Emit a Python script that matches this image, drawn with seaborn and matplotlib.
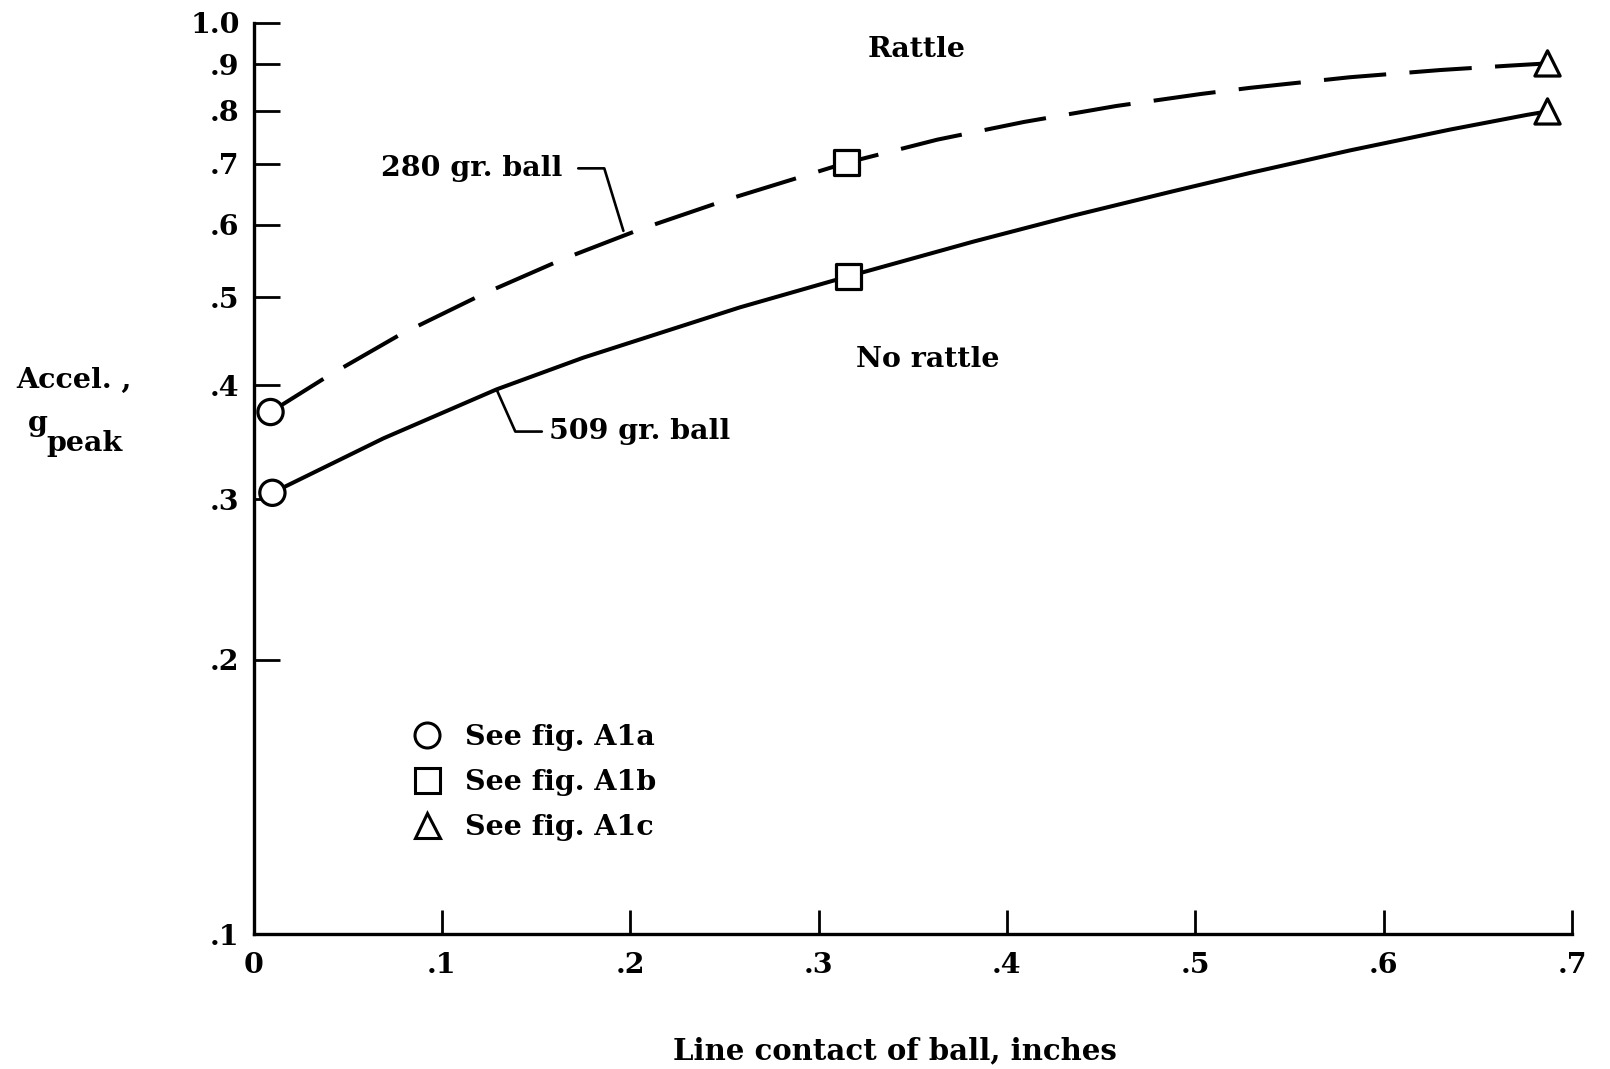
import numpy as np
import pandas as pd
import matplotlib
matplotlib.use("Agg")
import matplotlib.pyplot as plt
from matplotlib.lines import Line2D
from matplotlib.ticker import NullLocator
import seaborn as sns

# ---- data ----
# 280 gr. ball (dashed) faired curve
x_280 = [0.009, 0.039, 0.078, 0.122, 0.164, 0.205, 0.253, 0.315, 0.363, 0.409,
         0.458, 0.503, 0.529, 0.582, 0.630, 0.667, 0.687]
y_280 = [0.374, 0.409, 0.455, 0.504, 0.550, 0.593, 0.641, 0.702, 0.744, 0.778,
         0.810, 0.835, 0.848, 0.871, 0.887, 0.897, 0.902]
# 509 gr. ball (solid) faired curve
x_509 = [0.010, 0.069, 0.129, 0.175, 0.258, 0.316, 0.382, 0.435, 0.488, 0.529,
         0.582, 0.635, 0.676, 0.687]
y_509 = [0.305, 0.350, 0.396, 0.429, 0.487, 0.527, 0.575, 0.614, 0.653, 0.684,
         0.724, 0.763, 0.792, 0.799]
# test points (marker per source figure)
pt_x = [0.009, 0.315, 0.687, 0.010, 0.316, 0.687]
pt_y = [0.374, 0.702, 0.902, 0.305, 0.527, 0.799]
pt_fig = ["A1a", "A1b", "A1c", "A1a", "A1b", "A1c"]
legend_labels = ["See fig. A1a", "See fig. A1b", "See fig. A1c"]

x_ticks = [0, 0.1, 0.2, 0.3, 0.4, 0.5, 0.6, 0.7]
x_tick_labels = ["0", ".1", ".2", ".3", ".4", ".5", ".6", ".7"]
y_ticks = [0.1, 0.2, 0.3, 0.4, 0.5, 0.6, 0.7, 0.8, 0.9, 1.0]
y_tick_labels = [".1", ".2", ".3", ".4", ".5", ".6", ".7", ".8", ".9", "1.0"]

# ---- style ----
sns.set_theme(style="white")
plt.rcParams["font.family"] = ["DejaVu Serif"]
plt.rcParams["font.weight"] = "bold"
plt.rcParams["text.color"] = "black"
plt.rcParams["axes.labelcolor"] = "black"
plt.rcParams["xtick.color"] = "black"
plt.rcParams["ytick.color"] = "black"

FS = 20.5
fig = plt.figure(figsize=(16.1, 10.69), dpi=100)
ax = fig.add_axes([0.1575, 0.1259, 0.8189, 0.853])

LW = 2.9
df280 = pd.DataFrame({"x": x_280, "y": y_280})
df509 = pd.DataFrame({"x": x_509, "y": y_509})
sns.lineplot(data=df280, x="x", y="y", ax=ax, color="black", lw=LW,
             linestyle=(0, (15.5, 5.8)), sort=False, estimator=None, zorder=2,
             solid_joinstyle="round", dash_capstyle="butt")
sns.lineplot(data=df509, x="x", y="y", ax=ax, color="black", lw=LW,
             sort=False, estimator=None, zorder=2, solid_joinstyle="round")

dpts = pd.DataFrame({"x": pt_x, "y": pt_y, "fig": pt_fig})
markers = {"A1a": "o", "A1b": "s", "A1c": "^"}
sns.scatterplot(data=dpts, x="x", y="y", style="fig", markers=markers, ax=ax,
                s=330, color="white", edgecolor="black", linewidth=2.3,
                legend=False, zorder=3, clip_on=False)

ax.set_yscale("log")
ax.set_xlim(0, 0.7)
ax.set_ylim(0.1, 1.0)
ax.set_xticks(x_ticks)
ax.set_xticklabels(x_tick_labels)
ax.set_yticks(y_ticks)
ax.set_yticklabels(y_tick_labels)
ax.yaxis.set_minor_locator(NullLocator())
ax.xaxis.set_minor_locator(NullLocator())

sns.despine(ax=ax)
for s in ["left", "bottom"]:
    ax.spines[s].set_linewidth(2.4)
    ax.spines[s].set_color("black")

ax.tick_params(axis="y", direction="in", length=19, width=2.0, pad=10,
               labelsize=FS, colors="black", left=True)
ax.tick_params(axis="x", direction="in", length=17, width=2.0, pad=13,
               labelsize=FS, colors="black", bottom=True)
for lab in ax.get_xticklabels() + ax.get_yticklabels():
    lab.set_fontweight("bold")

ax.set_xlabel("Line contact of ball, inches", fontsize=FS + 0.5,
              fontweight="bold")
ax.xaxis.set_label_coords(0.4865, -0.112)
ax.set_ylabel("Accel. ,", fontsize=FS, fontweight="bold",
              rotation=0, ha="center", va="center")
ax.yaxis.set_label_coords(-0.136, 0.608)
# subscripted g_peak written as two texts (subscript nearly full size)
ax.text(-0.171, 0.552, "g", transform=ax.transAxes, fontsize=FS,
        fontweight="bold", ha="left", va="baseline")
ax.text(-0.1575, 0.530, "peak", transform=ax.transAxes, fontsize=FS,
        fontweight="bold", ha="left", va="baseline")

ax.text(0.352, 0.935, "Rattle", fontsize=FS, fontweight="bold",
        ha="center", va="center")
ax.text(0.358, 0.427, "No rattle", fontsize=FS, fontweight="bold",
        ha="center", va="center")

ax.annotate("280 gr. ball", xy=(0.197, 0.585), xytext=(0.164, 0.692),
            fontsize=FS, fontweight="bold", ha="right", va="center",
            arrowprops=dict(arrowstyle="-", color="black", lw=1.9,
                            shrinkA=9, shrinkB=-3,
                            connectionstyle="angle,angleA=0,angleB=107,rad=0"))
ax.annotate("509 gr. ball", xy=(0.129, 0.396), xytext=(0.157, 0.356),
            fontsize=FS, fontweight="bold", ha="left", va="center",
            arrowprops=dict(arrowstyle="-", color="black", lw=1.9,
                            shrinkA=3, shrinkB=0,
                            connectionstyle="angle,angleA=180,angleB=-66,rad=0"))

handles = [Line2D([], [], marker=m, ls="none", mfc="white", mec="black",
                  ms=18, mew=2.2)
           for m in ["o", "s", "^"]]
leg = ax.legend(handles, legend_labels, loc="upper left",
                bbox_to_anchor=(0.112, 0.243), frameon=False,
                prop={"size": FS, "weight": "bold"}, labelspacing=0.62,
                handletextpad=0.85, handlelength=1.0, borderaxespad=0)

fig.savefig("out.png", dpi=100, facecolor="white")
